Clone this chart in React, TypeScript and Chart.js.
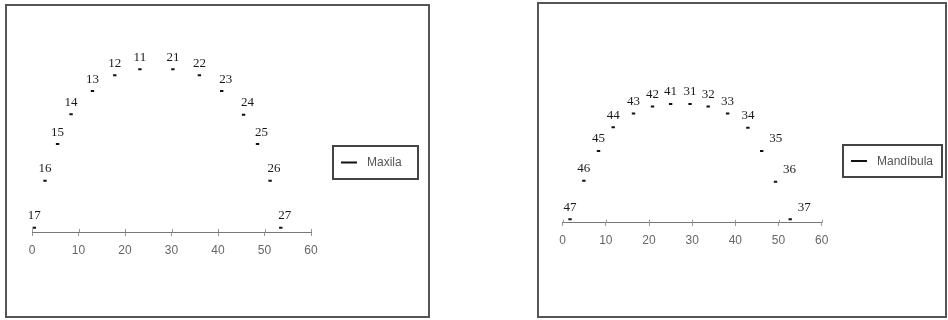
import React, { useEffect, useRef } from "react";
import { Chart, registerables } from "chart.js";

Chart.register(...registerables);

// ---- Data ----
const maxilaTeeth = ["17", "16", "15", "14", "13", "12", "11", "21", "22", "23", "24", "25", "26", "27"];
const maxilaX = [0.5, 2.8, 5.5, 8.4, 13.0, 17.8, 23.2, 30.3, 36.0, 40.8, 45.5, 48.5, 51.2, 53.5];
const maxilaY = [0.9, 11.0, 18.9, 25.3, 30.3, 33.7, 35.0, 35.0, 33.7, 30.3, 25.2, 18.9, 11.0, 0.9];

const mandibulaTeeth = ["47", "46", "45", "44", "43", "42", "41", "31", "32", "33", "34", "35", "36", "37"];
const mandibulaX = [1.7, 4.9, 8.3, 11.7, 16.4, 20.8, 25.0, 29.5, 33.7, 38.2, 42.9, 46.1, 49.3, 52.7];
const mandibulaY = [0.8, 9.7, 16.6, 22.1, 25.3, 26.9, 27.5, 27.5, 26.9, 25.3, 22.0, 16.6, 9.5, 0.8];

const xTicks = [0, 10, 20, 30, 40, 50, 60];

type PanelProps = {
  name: string;
  teeth: string[];
  xs: number[];
  ys: number[];
  yMin: number;
  yMax: number;
  width: number;
  height: number;
  padding: { left: number; right: number; top: number; bottom: number };
  legendBox: { x: number; y: number; w: number; h: number };
  shiftFrom: number;
  shiftPx: number;
  boxStyle: React.CSSProperties;
};

const labelPlugin = {
  id: "toothLabels",
  afterDatasetsDraw(chart: any, _args: any, opts: any) {
    const ctx = chart.ctx;
    const meta = chart.getDatasetMeta(0);
    const ds = chart.data.datasets[0];
    const xs = chart.scales.x;
    const y0 = chart.scales.y.getPixelForValue(0);
    ctx.save();
    // small tick marks crossing above the axis line
    ctx.strokeStyle = "#999";
    ctx.lineWidth = 1;
    xTicks.forEach((t) => {
      const px = Math.round(xs.getPixelForValue(t)) + 0.5;
      ctx.beginPath();
      ctx.moveTo(px, y0 - 3);
      ctx.lineTo(px, y0);
      ctx.stroke();
    });
    ctx.font = "13px 'Liberation Serif', 'Times New Roman', serif";
    ctx.fillStyle = "#1a1a1a";
    ctx.textAlign = "center";
    ctx.textBaseline = "middle";
    meta.data.forEach((pt: any, i: number) => {
      const v = ds.data[i];
      const dx = v.x >= opts.shiftFrom ? opts.shiftPx : 0;
      ctx.fillText(opts.teeth[i], pt.x + dx, pt.y - 12);
    });
    ctx.restore();
  },
};

const legendPlugin = {
  id: "boxLegend",
  afterDraw(chart: any, _args: any, opts: any) {
    const ctx = chart.ctx;
    const b = opts.box;
    ctx.save();
    ctx.strokeStyle = "#444";
    ctx.lineWidth = 2;
    ctx.strokeRect(b.x, b.y, b.w, b.h);
    const cy = b.y + b.h / 2;
    ctx.strokeStyle = "#111";
    ctx.lineWidth = 2;
    ctx.beginPath();
    ctx.moveTo(b.x + 8, cy);
    ctx.lineTo(b.x + 24, cy);
    ctx.stroke();
    ctx.font = "12px 'Liberation Sans', Arial, sans-serif";
    ctx.fillStyle = "#555";
    ctx.textAlign = "left";
    ctx.textBaseline = "middle";
    ctx.fillText(opts.text, b.x + 34, cy + 0.5);
    ctx.restore();
  },
};

function Panel(p: PanelProps) {
  const ref = useRef<HTMLCanvasElement>(null);
  useEffect(() => {
    if (!ref.current) return;
    const chart = new Chart(ref.current, {
      type: "scatter",
      data: {
        datasets: [
          {
            label: p.name,
            data: p.xs.map((x, i) => ({ x, y: p.ys[i] })),
            pointStyle: "line",
            pointRadius: 1.7,
            pointBorderWidth: 2,
            borderColor: "#111",
            backgroundColor: "#111",
            showLine: false,
          },
        ],
      },
      options: {
        animation: false,
        responsive: false,
        layout: { padding: p.padding },
        plugins: {
          legend: { display: false },
          tooltip: { enabled: false },
          toothLabels: { teeth: p.teeth, shiftFrom: p.shiftFrom, shiftPx: p.shiftPx },
          boxLegend: { box: p.legendBox, text: p.name },
        } as any,
        scales: {
          x: {
            type: "linear",
            position: { y: 0 } as any,
            min: 0,
            max: 60,
            afterBuildTicks: (axis: any) => {
              axis.ticks = xTicks.map((v) => ({ value: v }));
            },
            border: { display: true, color: "#777", width: 1 },
            grid: { display: true, drawOnChartArea: false, drawTicks: true, tickLength: 3, color: "#999" },
            ticks: {
              color: "#666",
              padding: 8,
              maxRotation: 0,
              font: { family: "'Liberation Sans', Arial, sans-serif", size: 12 },
            },
          },
          y: {
            type: "linear",
            display: false,
            min: p.yMin,
            max: p.yMax,
          },
        },
      },
      plugins: [labelPlugin, legendPlugin],
    } as any);
    return () => chart.destroy();
  }, []);
  return (
    <div style={{ position: "absolute", boxSizing: "content-box", background: "#fff", ...p.boxStyle }}>
      <canvas ref={ref} width={p.width} height={p.height} style={{ display: "block" }} />
    </div>
  );
}

export default function App() {
  return (
    <div style={{ position: "absolute", left: 0, top: 0, width: 948, height: 320, background: "#fff", overflow: "hidden" }}>
      <Panel
        name="Maxila"
        teeth={maxilaTeeth}
        xs={maxilaX}
        ys={maxilaY}
        yMin={-10}
        yMax={40}
        width={421}
        height={310}
        padding={{ left: 25, right: 117, top: 40, bottom: 37.5 }}
        legendBox={{ x: 326, y: 140, w: 85, h: 33 }}
        shiftFrom={40}
        shiftPx={4}
        boxStyle={{ left: 5, top: 4, width: 421, height: 310, border: "2px solid #555" }}
      />
      <Panel
        name="Mandíbula"
        teeth={mandibulaTeeth}
        xs={mandibulaX}
        ys={mandibulaY}
        yMin={-10}
        yMax={30}
        width={406}
        height={312}
        padding={{ left: 23.7, right: 123.3, top: 89.2, bottom: 50.1 }}
        legendBox={{ x: 304, y: 141, w: 99, h: 32 }}
        shiftFrom={45}
        shiftPx={14}
        boxStyle={{ left: 537, top: 2, width: 406, height: 312, border: "2px solid #555" }}
      />
    </div>
  );
}
